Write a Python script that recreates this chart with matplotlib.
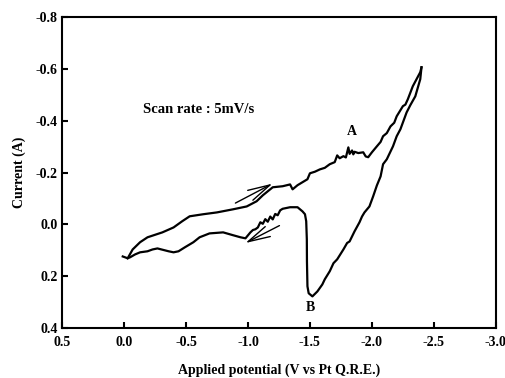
import matplotlib
matplotlib.use("Agg")
import matplotlib.pyplot as plt

# Forward scan (upper branch), potential in V, current in A
fwd_v = [0.01, -0.03, -0.07, -0.13, -0.19, -0.31, -0.40, -0.47, -0.53, -0.64,
         -0.75, -0.88, -0.99, -1.07, -1.12, -1.20, -1.24, -1.28, -1.34, -1.36,
         -1.40, -1.48, -1.50, -1.54, -1.58, -1.62, -1.66, -1.70, -1.72, -1.74,
         -1.77, -1.79, -1.81, -1.82, -1.84, -1.85, -1.86, -1.89, -1.93, -1.95,
         -1.97, -2.00, -2.04, -2.07, -2.09, -2.12, -2.15, -2.18, -2.20, -2.25,
         -2.27, -2.29, -2.33, -2.36, -2.39, -2.40]
fwd_i = [0.124, 0.131, 0.097, 0.069, 0.050, 0.031, 0.012, -0.012, -0.031, -0.039,
         -0.046, -0.058, -0.069, -0.089, -0.112, -0.143, -0.145, -0.147, -0.154, -0.135,
         -0.151, -0.174, -0.197, -0.203, -0.212, -0.218, -0.232, -0.240, -0.266, -0.255,
         -0.263, -0.258, -0.297, -0.272, -0.285, -0.270, -0.280, -0.275, -0.278, -0.262,
         -0.259, -0.278, -0.301, -0.318, -0.340, -0.352, -0.378, -0.392, -0.417, -0.456,
         -0.462, -0.483, -0.533, -0.560, -0.587, -0.606]

# Reverse scan (lower branch)
rev_v = [-2.40, -2.39, -2.35, -2.31, -2.28, -2.23, -2.20, -2.17, -2.12, -2.09,
         -2.07, -2.04, -2.01, -1.98, -1.94, -1.92, -1.90, -1.86, -1.82, -1.80,
         -1.77, -1.72, -1.69, -1.66, -1.62, -1.60, -1.56, -1.52, -1.49, -1.48,
         -1.476, -1.475, -1.47, -1.46, -1.44, -1.40, -1.34, -1.28, -1.26, -1.24,
         -1.22, -1.20, -1.18, -1.16, -1.14, -1.12, -1.10, -1.08, -1.06, -1.04,
         -1.02, -0.98, -0.94, -0.88, -0.80, -0.69, -0.61, -0.56, -0.49, -0.44,
         -0.40, -0.36, -0.27, -0.23, -0.19, -0.13, -0.09, -0.05, -0.03]
rev_i = [-0.606, -0.560, -0.494, -0.460, -0.432, -0.367, -0.340, -0.301, -0.251, -0.232,
         -0.185, -0.150, -0.108, -0.069, -0.046, -0.030, -0.008, 0.027, 0.066, 0.072,
         0.097, 0.135, 0.150, 0.181, 0.212, 0.232, 0.259, 0.278, 0.266, 0.239,
         0.143, 0.058, -0.012, -0.039, -0.050, -0.066, -0.066, -0.060, -0.054, -0.035,
         -0.040, -0.019, -0.030, -0.010, -0.020, -0.002, -0.008, 0.012, 0.019, 0.022,
         0.031, 0.054, 0.050, 0.042, 0.031, 0.035, 0.050, 0.069, 0.089, 0.104,
         0.108, 0.104, 0.093, 0.097, 0.104, 0.108, 0.116, 0.127, 0.131]

x_ticks = [0.5, 0.0, -0.5, -1.0, -1.5, -2.0, -2.5, -3.0]
y_ticks = [-0.8, -0.6, -0.4, -0.2, 0.0, 0.2, 0.4]

plt.rcParams['font.family'] = ['Liberation Serif', 'DejaVu Serif']
plt.rcParams['font.weight'] = 'bold'

fig = plt.figure(figsize=(5.06, 3.78), dpi=100)
ax = fig.add_axes([0.1225, 0.1323, 0.8575, 0.8227])

ax.plot(fwd_v, fwd_i, color='black', lw=1.6, solid_joinstyle='round')
ax.plot(rev_v, rev_i, color='black', lw=1.6, solid_joinstyle='round')

ax.set_xlim(0.5, -3.0)
ax.set_ylim(0.4, -0.8)
ax.set_xticks(x_ticks)
ax.set_yticks(y_ticks)
ax.set_xticklabels([f"{t:.1f}" for t in x_ticks])
ax.set_yticklabels([f"{t:.1f}" for t in y_ticks])

for s in ax.spines.values():
    s.set_linewidth(1.5)
ax.tick_params(direction='in', length=4, width=1.5, labelsize=10)
ax.tick_params(axis='x', pad=6)
ax.tick_params(axis='y', pad=3)

ax.set_xlabel('Applied potential (V vs Pt Q.R.E.)', fontsize=10, fontweight='bold', labelpad=10)
ax.set_ylabel('Current (A)', fontsize=10, fontweight='bold', labelpad=7)

ax.text(-0.153, -0.444, 'Scan rate : 5mV/s', fontsize=10.5, fontweight='bold',
        ha='left', va='center')
ax.text(-1.839, -0.36, 'A', fontsize=10, fontweight='bold', ha='center', va='center')
ax.text(-1.50, 0.32, 'B', fontsize=10, fontweight='bold', ha='center', va='center')

arrow_style = dict(arrowstyle='->,head_length=1.6,head_width=0.4', color='black', lw=1.0)
ax.annotate('', xy=(-1.218, -0.162), xytext=(-0.879, -0.077), arrowprops=arrow_style)
ax.annotate('', xy=(-0.960, 0.077), xytext=(-1.274, 0.0), arrowprops=arrow_style)

fig.savefig('out.png', dpi=100)
